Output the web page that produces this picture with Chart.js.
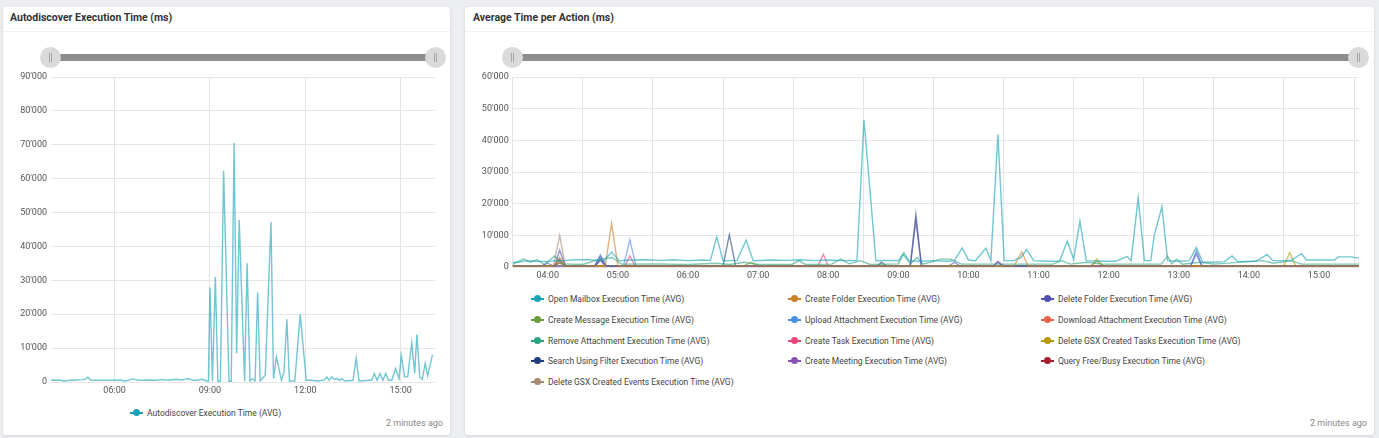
<!DOCTYPE html>
<html>
<head>
<meta charset="utf-8">
<script src="https://cdn.jsdelivr.net/npm/chart.js@4.4.1/dist/chart.umd.min.js"></script>
<style>
  html, body { margin:0; padding:0; }
  body { width:1379px; height:438px; background:#eceef1; position:relative; overflow:hidden; font-family: Roboto, "Noto Sans", sans-serif; }
  .card { position:absolute; background:#fff; border-radius:3px; box-shadow:0 1px 3px rgba(0,0,0,0.12); }
  .hdr { position:absolute; left:0; right:0; top:0; height:24px; border-bottom:1px solid #f1f1f1; }
  .title { position:absolute; font-size:10.5px; font-weight:bold; color:#333; white-space:nowrap; }
  .ago { position:absolute; font-size:9px; color:#888; white-space:nowrap; }
  .bar { position:absolute; height:7px; background:#8d8d8d; }
  .handle { position:absolute; width:21px; height:21px; border-radius:50%; background:#dadada; }
  .handle::before, .handle::after { content:""; position:absolute; top:6px; width:1px; height:9px; background:#a6a6a6; }
  .handle::before { left:9px; } .handle::after { left:11px; }
  .cv { position:absolute; }
  .lg { position:absolute; font-size:8.5px; color:#444; white-space:nowrap; line-height:12px; }
  .mk { position:absolute; left:0; top:5px; width:13px; height:2px; background:currentColor; }
  .mk::after { content:""; position:absolute; left:3px; top:-3px; width:7px; height:7px; border-radius:50%; background:currentColor; }
  .lt { position:absolute; left:17px; top:0; color:#444; }
</style>
</head>
<body>
<div class="card" style="left:3px;top:7px;width:447px;height:428px"><div class="hdr"></div></div>
<div class="card" style="left:465px;top:7px;width:909px;height:428px"><div class="hdr"></div></div>
<div class="title" style="left:10px;top:11px">Autodiscover Execution Time (ms)</div>
<div class="title" style="left:473px;top:11px">Average Time per Action (ms)</div>

<div class="bar" style="left:58px;top:54px;width:370px"></div>
<div class="handle" style="left:40px;top:47px"></div>
<div class="handle" style="left:425px;top:47px"></div>
<div class="bar" style="left:520px;top:54px;width:830px"></div>
<div class="handle" style="left:502px;top:47px"></div>
<div class="handle" style="left:1348px;top:47px"></div>

<div class="cv" style="left:0px;top:62px;width:450px;height:338px"><canvas id="c1" width="450" height="338"></canvas></div>
<div class="cv" style="left:460px;top:62px;width:915px;height:223px"><canvas id="c2" width="915" height="223"></canvas></div>

<div id="lg1"></div>
<div id="lg2"></div>
<div class="ago" style="left:386px;top:418px">2 minutes ago</div>
<div class="ago" style="left:1310px;top:418px">2 minutes ago</div>

<script>
// ---------- DATA ----------
const leftXTicks = ['06:00','09:00','12:00','15:00'];
const rightXTicks = ['04:00','05:00','06:00','07:00','08:00','09:00','10:00','11:00','12:00','13:00','14:00','15:00'];

// [hour, ms]
const autodiscover = [[4.0,500],[4.1,600],[4.3,500],[4.4,300],[4.6,500],[4.8,600],[5.0,700],[5.1,900],[5.16,1500],[5.25,600],[5.4,500],[5.6,500],[5.8,500],[6.0,500],[6.2,600],[6.3,300],[6.45,500],[6.59,900],[6.7,600],[6.9,500],[7.1,600],[7.3,500],[7.5,700],[7.7,500],[7.9,800],[8.1,600],[8.33,1000],[8.45,500],[8.6,500],[8.75,800],[8.9,300],[8.95,200],[9.0,27900],[9.08,200],[9.17,31000],[9.25,200],[9.33,200],[9.43,62300],[9.6,200],[9.67,200],[9.76,70500],[9.84,8500],[9.92,47800],[10.09,200],[10.17,35000],[10.26,300],[10.34,1000],[10.42,300],[10.5,26500],[10.58,300],[10.74,2000],[10.92,47200],[11.0,1000],[11.09,7400],[11.25,500],[11.33,3000],[11.42,18500],[11.5,300],[11.67,300],[11.84,20000],[12.03,500],[12.2,500],[12.4,300],[12.6,600],[12.68,1500],[12.75,500],[12.83,1500],[12.9,800],[13.0,1000],[13.08,500],[13.15,1000],[13.25,300],[13.5,500],[13.6,7000],[13.69,300],[14.0,500],[14.09,500],[14.17,2500],[14.26,500],[14.35,2500],[14.44,500],[14.53,2500],[14.62,500],[14.72,500],[14.84,4000],[14.95,1000],[15.02,7900],[15.12,1500],[15.22,1500],[15.35,11500],[15.44,2500],[15.51,14000],[15.6,1500],[15.68,800],[15.77,5500],[15.85,1800],[16.0,8000]];

const openMailbox = [[3.5,1400],[3.6,1600],[3.7,2000],[3.85,1800],[4.0,1700],[4.1,2000],[4.25,2100],[4.4,2300],[4.6,2300],[4.8,2000],[4.91,4700],[5.02,2000],[5.2,2200],[5.4,2300],[5.6,2100],[5.8,2300],[6.0,2000],[6.2,2200],[6.32,2100],[6.41,9500],[6.5,2000],[6.7,2100],[6.83,8500],[6.93,2000],[7.2,2200],[7.4,2100],[7.6,2300],[7.8,2000],[8.0,2200],[8.2,2000],[8.41,2000],[8.51,46500],[8.68,2000],[8.85,2100],[9.0,2000],[9.08,4500],[9.15,2000],[9.3,1800],[9.5,2000],[9.7,1800],[9.8,2000],[9.91,6000],[10.0,2200],[10.1,2000],[10.25,6000],[10.32,2000],[10.42,41800],[10.51,2000],[10.65,2000],[10.75,3000],[10.83,5500],[10.93,2000],[11.1,1800],[11.3,1800],[11.41,8200],[11.5,2500],[11.59,14500],[11.68,2000],[11.9,1800],[12.1,1800],[12.26,3300],[12.32,2000],[12.42,21800],[12.51,2000],[12.6,2000],[12.65,10000],[12.76,19100],[12.84,2000],[13.0,1800],[13.15,2000],[13.25,6200],[13.34,1500],[13.5,1500],[13.65,1700],[13.76,3500],[13.84,1700],[14.1,1800],[14.26,4000],[14.34,2000],[14.6,2000],[14.75,4200],[14.82,2200],[15.0,2200],[15.22,2200],[15.27,3200],[15.45,3200],[15.57,2800]];
const createFolder = [[3.5,300],[4.08,300],[4.17,3000],[4.25,300],[4.82,300],[4.91,13800],[5.0,300],[10.65,300],[10.76,4800],[10.85,300],[15.57,300]];
const deleteFolder = [[3.5,300],[3.9,300],[4.0,1200],[4.08,300],[4.1,300],[4.17,5300],[4.25,300],[4.67,300],[4.75,3500],[4.83,300],[9.17,300],[9.25,14500],[9.33,300],[9.72,300],[9.8,1500],[9.88,300],[10.35,300],[10.42,1500],[10.5,300],[13.17,300],[13.25,5000],[13.33,300],[15.57,300]];
const createMessage = [[3.5,400],[4.1,400],[4.17,1200],[4.25,400],[6.8,400],[6.9,1500],[7.0,400],[11.75,400],[11.83,1800],[11.92,400],[15.57,400]];
const uploadAttachment = [[3.5,300],[4.67,300],[4.75,3800],[4.83,300],[5.08,300],[5.17,8500],[5.26,300],[13.17,300],[13.25,4000],[13.33,300],[15.57,300]];
const downloadAttachment = [[3.5,250],[6.0,300],[9.0,250],[12.0,300],[15.57,250]];
const removeAttachment = [[3.5,800],[3.65,2500],[3.75,1500],[3.85,2300],[3.95,800],[4.1,3500],[4.2,1000],[4.5,800],[4.75,2500],[4.92,3000],[5.05,900],[5.5,1000],[6.0,800],[6.4,1200],[6.6,800],[6.8,1500],[7.0,800],[7.48,800],[7.58,2000],[7.68,800],[8.05,900],[8.18,2500],[8.3,1000],[8.46,2000],[8.6,800],[9.0,1000],[9.07,4000],[9.17,1000],[9.27,3000],[9.35,900],[9.6,2500],[9.75,2500],[9.9,900],[11.2,900],[11.33,2000],[11.45,900],[11.7,1500],[11.9,900],[12.75,900],[12.84,3500],[12.9,1000],[12.97,2500],[13.05,900],[13.3,1500],[13.5,900],[14.2,2000],[14.35,1200],[14.6,2000],[14.75,900],[15.57,900]];
const createTask = [[3.5,200],[4.1,200],[4.17,1500],[4.25,200],[5.1,200],[5.17,3500],[5.25,200],[7.85,200],[7.93,4000],[8.0,200],[15.57,200]];
const deleteGsxTasks = [[3.5,300],[4.1,300],[4.17,2000],[4.25,300],[11.75,300],[11.83,2500],[11.92,300],[14.5,300],[14.58,4500],[14.67,300],[15.57,300]];
const searchUsingFilter = [[3.5,300],[4.1,300],[4.17,2500],[4.25,300],[4.67,300],[4.75,2500],[4.83,300],[6.5,300],[6.59,10200],[6.68,300],[8.7,300],[8.76,1500],[8.83,300],[9.17,300],[9.25,16500],[9.33,300],[15.57,300]];
const createMeeting = [[3.5,200],[4.67,200],[4.75,2000],[4.83,200],[10.35,200],[10.42,1800],[10.5,200],[15.57,200]];
const queryFreeBusy = [[3.5,450],[6.0,450],[9.0,450],[12.0,450],[15.57,450]];
const deleteGsxEvents = [[3.5,300],[4.08,300],[4.17,10000],[4.25,300],[15.57,300]];

const rightSeriesNames = ['Open Mailbox Execution Time (AVG)','Create Folder Execution Time (AVG)','Delete Folder Execution Time (AVG)','Create Message Execution Time (AVG)','Upload Attachment Execution Time (AVG)','Download Attachment Execution Time (AVG)','Remove Attachment Execution Time (AVG)','Create Task Execution Time (AVG)','Delete GSX Created Tasks Execution Time (AVG)','Search Using Filter Execution Time (AVG)','Create Meeting Execution Time (AVG)','Query Free/Busy Execution Time (AVG)','Delete GSX Created Events Execution Time (AVG)'];
const rightSeriesData = [openMailbox, createFolder, deleteFolder, createMessage, uploadAttachment, downloadAttachment, removeAttachment, createTask, deleteGsxTasks, searchUsingFilter, createMeeting, queryFreeBusy, deleteGsxEvents];
const rightColors = ['#19a3b6','#c98129','#4e4fb0','#6c9b3d','#4a8fe2','#e8624b','#2aa383','#ea4479','#b89709','#1f3d7a','#8652b3','#a3212f','#a48a72'];
const leftName = 'Autodiscover Execution Time (AVG)';
const leftColor = '#19a3b6';

// ---------- HELPERS ----------
const toHours = s => { const [h,m] = s.split(':').map(Number); return h + m/60; };
const fmtTime = v => { const h = Math.floor(v + 1e-6); const m = Math.round((v - h) * 60); return String(h).padStart(2,'0') + ':' + String(m).padStart(2,'0'); };
const fmtK = v => String(Math.round(v)).replace(/\B(?=(\d{3})+(?!\d))/g, "'");
const alpha = (hex, a) => { const n = parseInt(hex.slice(1),16); return `rgba(${n>>16},${(n>>8)&255},${n&255},${a})`; };
const tickFont = { family: 'Roboto', size: 9 };
const tickColor = '#555';

function xAxis(min, max, labels, offsetGrid) {
  return {
    type: 'linear', min, max,
    afterBuildTicks: s => { s.ticks = labels.map(l => ({ value: toHours(l) })); },
    ticks: { callback: v => fmtTime(v), font: tickFont, color: tickColor, padding: 3, maxRotation: 0, autoSkip: false },
    grid: { color: '#e4e4e4', drawTicks: false, offset: offsetGrid },
    border: { display: false },
    afterFit: s => { s.height = 18; }
  };
}
function yAxis(max, width) {
  return {
    min: 0, max,
    ticks: { stepSize: 10000, callback: v => fmtK(v), font: tickFont, color: tickColor, padding: 4 },
    grid: { color: '#e6e6e6', drawTicks: false },
    border: { display: false },
    afterFit: s => { s.width = width; }
  };
}
const common = {
  responsive: false, animation: false, devicePixelRatio: 1,
  plugins: { legend: { display: false }, tooltip: { enabled: false } },
  elements: { point: { radius: 0 }, line: { tension: 0, borderWidth: 1.4 } }
};

const chart1 = new Chart(document.getElementById('c1'), {
  type: 'line',
  data: { datasets: [{ label: leftName, data: autodiscover, borderColor: alpha(leftColor, 0.62), legendColor: leftColor }] },
  options: Object.assign({}, common, {
    layout: { padding: { left: 5, top: 15, right: 15, bottom: 0 } },
    scales: { x: xAxis(4.0, 16.08, leftXTicks, false), y: yAxis(90000, 46) }
  })
});

const chart2 = new Chart(document.getElementById('c2'), {
  type: 'line',
  data: { datasets: rightSeriesNames.map((n, i) => ({ label: n, data: rightSeriesData[i], borderColor: alpha(rightColors[i], i === 0 ? 0.62 : 0.6), legendColor: rightColors[i] })) },
  options: Object.assign({}, common, {
    layout: { padding: { left: 5, top: 15, right: 16, bottom: 0 } },
    scales: { x: xAxis(3.5, 15.57, rightXTicks, true), y: yAxis(60000, 47.7) }
  })
});

// ---------- HTML legends built from chart data ----------
function addItem(host, ds, left, top) {
  const d = document.createElement('div');
  d.className = 'lg';
  d.style.left = left + 'px'; d.style.top = top + 'px';
  const mk = document.createElement('span'); mk.className = 'mk'; mk.style.color = ds.legendColor;
  const t = document.createElement('span'); t.className = 'lt'; t.textContent = ds.label;
  d.appendChild(mk); d.appendChild(t); host.appendChild(d);
}
chart1.data.datasets.forEach(ds => addItem(document.getElementById('lg1'), ds, 130, 407));
const colX = [531, 788, 1041];
chart2.data.datasets.forEach((ds, i) => addItem(document.getElementById('lg2'), ds, colX[i % 3], 293 + Math.floor(i / 3) * 20.8));
</script>
</body>
</html>
